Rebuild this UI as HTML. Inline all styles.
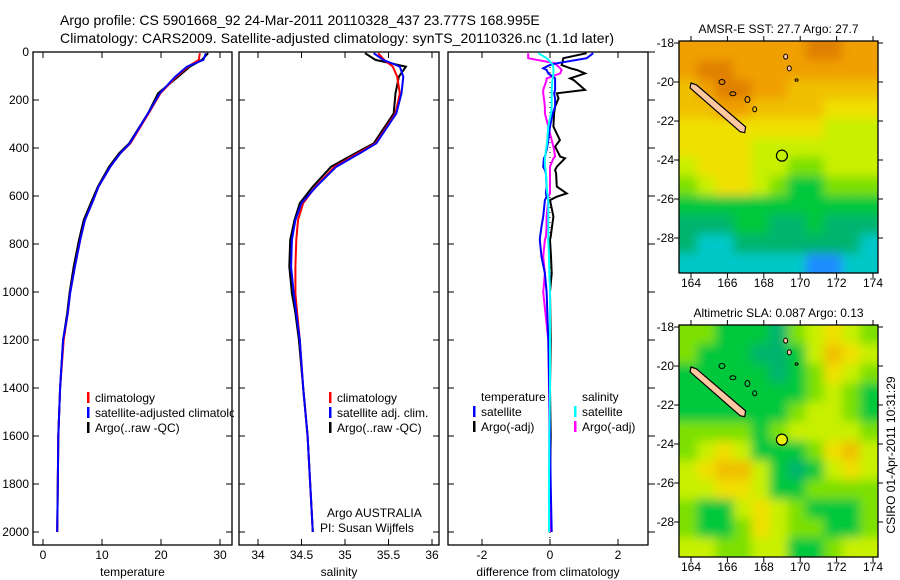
<!DOCTYPE html>
<html><head><meta charset="utf-8">
<style>
html,body{margin:0;padding:0;background:#fff;}
svg{display:block;font-family:"Liberation Sans",sans-serif;}
text{font-size:12px;fill:#000;}
</style></head>
<body>
<svg id="fig" width="900" height="580" viewBox="0 0 900 580" xmlns="http://www.w3.org/2000/svg">
<rect width="900" height="580" fill="#fff"/>
<text x="60" y="25" style="font-size:14px">Argo profile: CS 5901668_92 24-Mar-2011 20110328_437 23.777S 168.995E</text>
<text x="60" y="43" style="font-size:14px" textLength="554">Climatology: CARS2009. Satellite-adjusted climatology: synTS_20110326.nc (1.1d later)</text>
<g id="g1"></g>
<g id="g2"></g>
<g id="g3"></g>
<g id="m1"></g>
<g id="m2"></g>
<text transform="translate(895,455) rotate(-90)" text-anchor="middle">CSIRO 01-Apr-2011 10:31:29</text>
</svg>
<script>
// ---- data ----
const depthTicks=[0,200,400,600,800,1000,1200,1400,1600,1800,2000];
const tempTicks=[0,10,20,30];
const salTicks=[34,34.5,35,35.5,36];
const diffTicks=[-2,0,2];
const profDepth=[5,33,61,103,172,256,381,422,478,561,630,700,783,894,1005,1088,1200,1400,1600,1800,2000];
const tempClim=[26.6,26.4,24.6,22.6,19.9,17.9,14.8,13.1,11.4,9.4,8.3,7.1,6.3,5.4,4.6,4.2,3.5,2.9,2.6,2.5,2.4];
const tempSat=[27.6,27.2,24.4,22.4,19.8,17.8,14.7,13.1,11.4,9.4,8.3,7.1,6.3,5.4,4.6,4.2,3.4,2.9,2.6,2.5,2.4];
const tempArgo=[28.0,26.9,24.9,22.9,19.5,17.8,14.6,12.9,11.2,9.3,8.1,6.9,6.1,5.2,4.5,4.1,3.4,2.9,2.6,2.5,2.4];
const salClim=[35.38,35.45,35.55,35.60,35.63,35.58,35.35,35.15,34.88,34.66,34.52,34.46,34.44,34.43,34.43,34.45,34.48,34.52,34.57,34.60,34.63];
const salSat=[35.33,35.44,35.63,35.67,35.65,35.59,35.36,35.17,34.90,34.67,34.50,34.43,34.39,34.38,34.41,34.44,34.48,34.52,34.57,34.60,34.63];
const salArgo=[35.23,35.35,35.70,35.62,35.58,35.56,35.33,35.12,34.84,34.63,34.48,34.42,34.37,34.36,34.39,34.43,34.47,34.52,34.57,34.60,34.63];
const diffDepth=[5,26,47,54,68,75,89,110,117,158,172,193,228,256,311,367,394,408,436,443,478,492,506,561,589,603,617,686,728,769,783,853,922,1000,1200,1400,1600,1800,2000];
const diffTArgo=[1.08,0.39,0.36,0.34,0.6,0.79,1.03,0.59,0.7,1.03,0.2,0.25,0.15,0.12,0.10,0.29,0.15,0.2,0.3,0.44,0.2,0.15,0.18,0.20,0.49,0.2,0.0,0.10,0.06,0.02,0.0,0.03,0.05,0.0,0.02,0.0,0.02,0.0,0.02];
const diffTSat=[1.27,1.08,0.2,0.0,-0.2,-0.1,-0.05,0.15,0.15,0.15,0.12,0.15,0.15,0.08,0.0,-0.05,-0.08,-0.1,-0.15,-0.18,-0.2,-0.15,-0.12,-0.1,-0.12,-0.1,-0.15,-0.2,-0.25,-0.29,-0.3,-0.25,-0.15,-0.1,-0.05,-0.02,0.0,0.02,0.05];
const diffSArgo=[-0.64,-0.64,0.15,0.2,0.3,0.34,0.3,-0.1,-0.1,-0.2,-0.2,-0.18,-0.15,-0.15,-0.05,0.05,0.1,0.12,0.15,0.1,0.0,0.0,0.0,0.0,0.0,-0.05,-0.05,-0.1,-0.1,-0.12,-0.15,-0.2,-0.15,-0.2,-0.05,-0.03,-0.02,-0.02,0.0];
const diffSSat=[-0.34,-0.1,0.05,0.08,0.1,0.1,0.1,0.08,0.07,0.05,0.05,0.05,0.05,0.03,-0.05,-0.08,-0.1,-0.12,-0.14,-0.15,-0.15,-0.13,-0.12,-0.1,-0.08,-0.06,-0.05,-0.05,-0.05,-0.05,-0.05,-0.03,-0.02,0.0,0.0,0.0,-0.02,-0.03,-0.03];
// map color grids (palette indices)
const palette=["#1a8cff","#00c8c8","#00b46e","#00c83c","#7de000","#c8f000","#f0e000","#f0c000","#f0a000","#e08000"];
const sstGrid=[
[8,8,8,8,8,8,8,9,9,8,8],[8,9,9,8,8,8,8,8,8,8,8],[7,8,9,9,8,8,7,7,7,7,7],[7,7,8,8,7,7,7,7,6,6,6],
[6,6,6,6,6,6,6,6,5,5,5],[6,6,6,6,5,5,5,5,5,5,5],[5,6,6,6,5,5,4,4,5,5,5],[4,5,6,6,5,4,3,3,4,4,4],
[3,3,3,3,3,3,3,3,3,3,3],[2,2,2,3,3,2,2,3,2,2,2],[2,1,1,2,2,2,2,2,2,2,1],[1,1,1,1,1,1,1,0,0,1,1]];
const slaGrid=[
[4,4,3,3,3,2,4,5,6,5,4],[4,3,3,3,2,2,3,5,7,6,5],[3,3,3,3,3,2,3,4,6,5,4],[3,3,3,3,3,3,3,4,5,4,3],
[3,3,3,3,3,3,4,5,5,4,3],[4,4,4,4,3,4,5,5,5,5,4],[4,5,6,5,3,3,3,4,6,7,5],[5,6,7,7,5,3,2,3,5,6,5],
[5,5,6,6,5,3,3,4,4,4,4],[4,3,3,5,6,5,4,3,3,3,4],[4,3,3,4,6,5,4,4,3,3,4],[5,5,4,4,5,5,3,3,4,5,5]];
const lonTicks=[164,166,168,170,172,174];
const latTicks=[-18,-20,-22,-24,-26,-28];
const floatLon=[168.995], floatLat=[-23.777];

const NS="http://www.w3.org/2000/svg";
function mk(tag,attrs,parent){const e=document.createElementNS(NS,tag);for(const k in attrs)e.setAttribute(k,attrs[k]);parent.appendChild(e);return e;}
const yD=d=>52+d*0.24;

function panel(g,x0,x1,xScale,xt,label,ylab,outerRight){
  mk('rect',{x:x0,y:52,width:x1-x0,height:493,fill:'#fff',stroke:'#000','stroke-width':1.3},g);
  depthTicks.forEach(d=>{
    const y=yD(d);
    mk('line',{x1:x0,x2:x0+6,y1:y,y2:y,stroke:'#000'},g);
    if(outerRight) mk('line',{x1:x1,x2:x1+7,y1:y,y2:y,stroke:'#000'},g);
    else mk('line',{x1:x1-6,x2:x1,y1:y,y2:y,stroke:'#000'},g);
    if(ylab){const t=mk('text',{x:x0-4,y:y+4,'text-anchor':'end'},g);t.textContent=d;
      
      }
  });
  xt.forEach(v=>{
    const x=xScale(v);
    mk('line',{x1:x,x2:x,y1:52,y2:58,stroke:'#000'},g);
    mk('line',{x1:x,x2:x,y1:539,y2:545,stroke:'#000'},g);
    const t=mk('text',{x:x,y:559,'text-anchor':'middle'},g);t.textContent=v;
    
    
  });
  const t=mk('text',{x:(x0+x1)/2,y:576,'text-anchor':'middle'},g);t.textContent=label;
  
  
}
function series(g,depths,vals,xScale,color,name){
  const p=depths.map((d,i)=>xScale(vals[i]).toFixed(1)+','+yD(d).toFixed(1)).join(' ');
  const l=mk('polyline',{points:p,fill:'none',stroke:color,'stroke-width':2},g);
  
  
}
function legend(g,x,y,color,text,name){
  if(color) mk('rect',{x:x,y:y-10,width:2.5,height:11,fill:color},g);
  const t=mk('text',{x:x+8,y:y},g);t.textContent=text;
  
  
}
// Panel 1
const g1=document.getElementById('g1');
const xT=v=>43+v*5.9;
panel(g1,33,232,xT,tempTicks,'temperature',true,false);
series(g1,profDepth,tempArgo,xT,'#000','temp-argo-line');
series(g1,profDepth,tempClim,xT,'#f00','temp-climatology-line');
series(g1,profDepth,tempSat,xT,'#00f','temp-satellite-line');
legend(g1,87,402,'#f00','climatology','legend-climatology');
legend(g1,87,417,'#00f','satellite-adjusted climatology','legend-satellite-adjusted');
legend(g1,87,432,'#000','Argo(..raw -QC)','legend-argo');
// Panel 2
const g2=document.getElementById('g2');
const xS=v=>258+(v-34)*87;
mk('rect',{x:234,y:52,width:5,height:493,fill:'#fff'},g2);
panel(g2,239,439,xS,salTicks,'salinity',false,false);
series(g2,profDepth,salArgo,xS,'#000','sal-argo-line');
series(g2,profDepth,salClim,xS,'#f00','sal-climatology-line');
series(g2,profDepth,salSat,xS,'#00f','sal-satellite-line');
legend(g2,329,402,'#f00','climatology','legend-climatology');
legend(g2,329,417,'#00f','satellite adj. clim.','legend-satellite-adj');
legend(g2,329,432,'#000','Argo(..raw -QC)','legend-argo');
legend(g2,319,517,null,'Argo AUSTRALIA','argo-australia-label');
legend(g2,312,532,null,'PI: Susan Wijffels','pi-label');
// Panel 3
const g3=document.getElementById('g3');
const xDf=v=>550+v*34;
panel(g3,448,648,xDf,diffTicks,'difference from climatology',false,true);
mk('line',{x1:550,x2:550,y1:52,y2:545,stroke:'#000','stroke-dasharray':'1,4'},g3);
series(g3,diffDepth,diffTArgo,xDf,'#000','diff-temp-argo-line');
series(g3,diffDepth,diffSArgo,xDf,'#f0f','diff-sal-argo-line');
series(g3,diffDepth,diffTSat,xDf,'#00f','diff-temp-satellite-line');
series(g3,diffDepth,diffSSat,xDf,'#0ff','diff-sal-satellite-line');
legend(g3,473,401,null,'temperature','legend-temperature-heading');
legend(g3,473,416,'#00f','satellite','legend-temp-satellite');
legend(g3,473,431,'#000','Argo(-adj)','legend-temp-argo');
legend(g3,574,401,null,'salinity','legend-salinity-heading');
legend(g3,574,416,'#0ff','satellite','legend-sal-satellite');
legend(g3,574,431,'#f0f','Argo(-adj)','legend-sal-argo');

// Maps
function map(id,top,grid,title,circFill){
  const g=document.getElementById(id);
  const L=679,R=878,T=top,B=top+232;
  const lx=v=>691+(v-164)*18.2, ly=v=>top+2+(-18-v)*19.5;
  const clipId='clip'+id;
  const cp=mk('clipPath',{id:clipId},g);mk('rect',{x:L,y:T,width:R-L,height:B-T},cp);
  const fid='blur'+id;
  const f=mk('filter',{id:fid,x:'-10%',y:'-10%',width:'120%',height:'120%'},g);
  mk('feGaussianBlur',{stdDeviation:5},f);
  const cg=mk('g',{'clip-path':'url(#'+clipId+')'},g);
  const bg=mk('g',{filter:'url(#'+fid+')'},cg);
  const cw=(R-L)/11, ch=(B-T)/12;
  grid.forEach((row,r)=>row.forEach((c,k)=>{
    mk('rect',{x:L+k*cw-(k==0?20:0),y:T+r*ch-(r==0?20:0),width:cw+1+(k==0||k==10?20:0),height:ch+1+(r==0||r==11?20:0),fill:palette[c]},bg);
  }));
  const isl=[[164,-20.05],[164.3,-20.15],[167,-22.3],[166.95,-22.6],[166.7,-22.55],[163.95,-20.3]];
  const ip=isl.map(p=>lx(p[0]).toFixed(1)+','+ly(p[1]).toFixed(1)).join(' ');
  const il=mk('polygon',{points:ip,fill:'#ffc8a0',stroke:'#000','stroke-width':1.2},cg);
  
  
  [[165.7,-20.0,3,2.5,'none'],[166.3,-20.6,3,2,'none'],[167.1,-20.9,2.5,3,'none'],[167.5,-21.4,2,2.5,'none'],[169.2,-18.7,2,2.5,'#ffc8a0'],[169.4,-19.3,2,2.5,'#ffc8a0'],[169.8,-19.9,1.5,1.2,'none']].forEach(e=>{
    mk('ellipse',{cx:lx(e[0]),cy:ly(e[1]),rx:e[2],ry:e[3],fill:e[4],stroke:'#000','stroke-width':1},cg);
  });
  floatLon.forEach((lo,i)=>{
    const c=mk('circle',{cx:lx(lo),cy:ly(floatLat[i]),r:5.5,fill:circFill,stroke:'#000','stroke-width':1.2},cg);
    
    
  });
  mk('rect',{x:L,y:T,width:R-L,height:B-T,fill:'none',stroke:'#000','stroke-width':1.3},g);
  lonTicks.forEach(v=>{const x=lx(v);
    mk('line',{x1:x,x2:x,y1:T-5,y2:T,stroke:'#000'},g);
    mk('line',{x1:x,x2:x,y1:B,y2:B+5,stroke:'#000'},g);
    const t=mk('text',{x:x,y:B+14,'text-anchor':'middle'},g);t.textContent=v;
    
    });
  latTicks.forEach(v=>{const y=ly(v);
    mk('line',{x1:L-5,x2:L,y1:y,y2:y,stroke:'#000'},g);
    mk('line',{x1:R,x2:R+5,y1:y,y2:y,stroke:'#000'},g);
    const t=mk('text',{x:L-5,y:y+4,'text-anchor':'end'},g);t.textContent=v;
    
    });
  const t=mk('text',{x:(L+R)/2,y:T-8,'text-anchor':'middle'},g);t.textContent=title;
  
  
}
map('m1',41,sstGrid,'AMSR-E SST: 27.7 Argo: 27.7','none');
map('m2',325,slaGrid,'Altimetric SLA: 0.087 Argo: 0.13','#e6f000');
</script>
</body></html>
